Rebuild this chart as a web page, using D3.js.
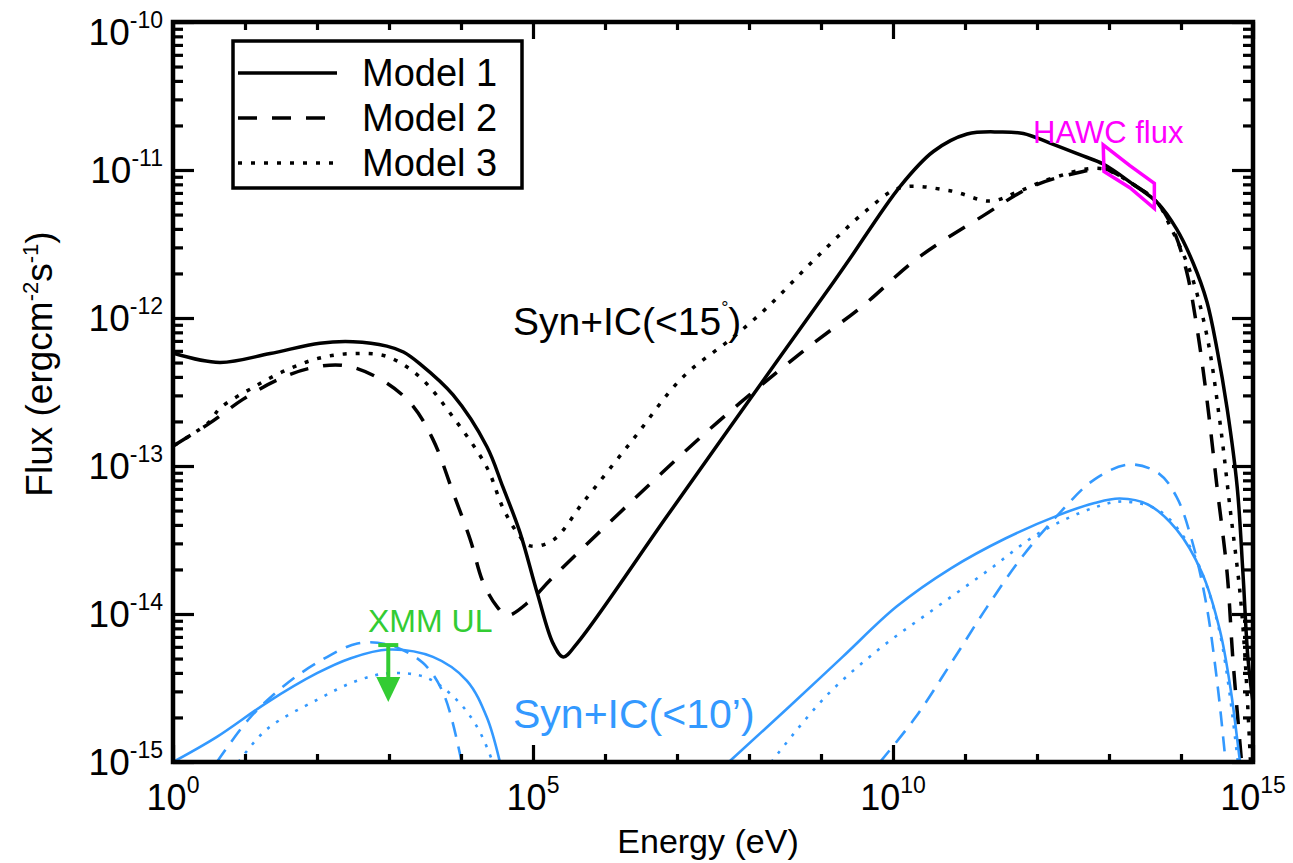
<!DOCTYPE html>
<html>
<head>
<meta charset="utf-8">
<script src="https://cdn.jsdelivr.net/npm/d3@7"></script>
<style>
  body { margin: 0; background: #fff; }
  svg { font-family: "Liberation Sans", Arial, sans-serif; }
</style>
</head>
<body>
<svg id="chart" width="1293" height="863"></svg>
<script>
// Values, each point is [log10 E (eV), log10 flux (erg cm^-2 s^-1)]
const model1 = [[0.02,-12.24],[0.65,-12.30],[1.35,-12.24],[2.04,-12.17],[2.5,-12.16],[2.97,-12.19],[3.2,-12.23],
  [3.43,-12.31],[3.89,-12.52],[4.36,-12.87],[4.58,-13.14],[4.82,-13.45],[5.06,-13.86],[5.28,-14.2],[5.42,-14.29],
  [5.61,-14.20],[6.86,-13.34],[8.01,-12.55],[9.17,-11.76],[9.40,-11.60],[10.10,-11.11],[10.56,-10.875],[11.03,-10.757],
  [11.49,-10.743],[11.81,-10.753],[12.18,-10.818],[12.64,-10.905],[12.92,-10.96],[13.33,-11.095],[13.67,-11.22],
  [13.94,-11.40],[14.17,-11.63],[14.36,-11.89],[14.50,-12.21],[14.64,-12.61],[14.78,-13.14],[14.86,-13.72],
  [14.93,-14.30],[15.0,-14.6]]
const model2 = [[0.02,-12.86],[0.51,-12.71],[0.97,-12.55],[1.44,-12.42],[1.90,-12.34],[2.36,-12.32],[2.83,-12.40],
  [3.29,-12.57],[3.61,-12.82],[3.89,-13.18],[4.13,-13.50],[4.31,-13.79],[4.50,-13.95],[4.64,-14.01],[4.96,-13.91],
  [5.26,-13.76],[6.39,-13.23],[7.55,-12.71],[8.71,-12.24],[9.60,-11.91],[10.33,-11.60],[11.25,-11.31],
  [11.94,-11.11],[12.64,-11.01],[12.92,-10.99],[13.33,-11.095],[13.67,-11.22],[13.89,-11.40],[14.08,-11.69],
  [14.22,-12.06],[14.36,-12.55],[14.5,-13.14],[14.64,-13.72],[14.72,-14.30],[14.82,-14.88],[14.85,-15.05]]
const model3 = [[0.02,-12.86],[0.51,-12.70],[0.65,-12.61],[1.11,-12.47],[1.58,-12.35],[2.04,-12.27],[2.5,-12.24],
  [2.97,-12.26],[3.43,-12.40],[3.89,-12.67],[4.36,-13.01],[4.58,-13.28],[4.78,-13.45],[4.96,-13.54],[5.28,-13.50],
  [5.69,-13.25],[6.39,-12.82],[7.08,-12.40],[7.78,-12.13],[8.25,-11.93],[8.94,-11.59],[9.64,-11.27],[10.10,-11.12],
  [10.79,-11.14],[11.35,-11.21],[11.72,-11.15],[12.18,-11.06],[12.88,-10.99],[13.33,-11.095],[13.67,-11.22],
  [13.85,-11.38],[14.13,-11.69],[14.36,-12.12],[14.54,-12.70],[14.68,-13.28],[14.82,-13.86],[14.89,-14.30],[14.97,-15.05]]

// Syn+IC within 10 arcmin (blue), low and high energy humps
const blueSolidLow = [[0,-15],[0.61,-14.83],[1.30,-14.60],[2.0,-14.40],[2.46,-14.30],[2.99,-14.24],[3.61,-14.29],
  [4.08,-14.45],[4.36,-14.70],[4.54,-15.0],[4.6,-15.15]]
const blueDashLow = [[0.61,-15],[1.07,-14.70],[1.53,-14.49],[2.0,-14.33],[2.56,-14.20],[3.01,-14.21],[3.47,-14.33],
  [3.75,-14.53],[4.01,-15.0],[4.05,-15.1]]
const blueDotLow = [[0.91,-15],[1.30,-14.78],[2.0,-14.58],[2.56,-14.45],[3.01,-14.40],[3.52,-14.43],[3.94,-14.58],
  [4.22,-14.76],[4.44,-15.0],[4.5,-15.1]]
const blueSolidHigh = [[7.72,-15],[8.55,-14.63],[9.30,-14.29],[10.05,-13.95],[10.81,-13.69],[11.56,-13.49],
  [12.31,-13.33],[12.80,-13.25],[13.15,-13.22],[13.54,-13.26],[13.94,-13.43],[14.29,-13.72],[14.54,-14.11],
  [14.69,-14.51],[14.82,-15.0],[14.85,-15.1]]
const blueDashHigh = [[9.82,-15],[10.31,-14.70],[10.81,-14.33],[11.31,-13.95],[11.80,-13.61],[12.31,-13.32],
  [12.80,-13.09],[13.29,-12.99],[13.69,-13.05],[13.94,-13.21],[14.15,-13.50],[14.35,-13.93],[14.50,-14.45],
  [14.62,-15.0],[14.64,-15.1]]
const blueDotHigh = [[8.31,-15],[9.06,-14.56],[9.80,-14.24],[10.56,-13.97],[11.31,-13.71],[12.04,-13.45],
  [12.80,-13.28],[13.20,-13.24],[13.69,-13.30],[14.04,-13.48],[14.29,-13.72],[14.54,-14.13],[14.79,-15.0],[14.81,-15.1]]

// HAWC butterfly outline and XMM upper limit
const hawcBox = [[12.92,-10.83],[12.93,-11.01],[13.29,-11.12],[13.63,-11.26],[13.63,-11.09],[13.29,-10.97]]
const xmmUL = [2.99, -14.21]

const legendLabels = ['Model 1', 'Model 2', 'Model 3']
const xLabelExps = [0, 5, 10, 15]
const yLabelExps = [-10, -11, -12, -13, -14, -15]

const svg = d3.select('#chart')
const plot = {left: 173, right: 1253, top: 22, bottom: 762}

const x = d3.scaleLog().domain([1, 1e15]).range([plot.left, plot.right])
const y = d3.scaleLog().domain([1e-15, 1e-10]).range([plot.bottom, plot.top])

const blue = '#3399ff'
const styles = [
  {data: model1, color: '#000', width: 3.5, dash: null},
  {data: model2, color: '#000', width: 3.5, dash: '19,15'},
  {data: model3, color: '#000', width: 3.5, dash: '4,9'},
  {data: blueSolidLow, color: blue, width: 2.6, dash: null},
  {data: blueDashLow, color: blue, width: 2.6, dash: '15,10'},
  {data: blueDotLow, color: blue, width: 2.6, dash: '3,8'},
  {data: blueSolidHigh, color: blue, width: 2.6, dash: null},
  {data: blueDashHigh, color: blue, width: 2.6, dash: '15,10'},
  {data: blueDotHigh, color: blue, width: 2.6, dash: '3,8'}
]

svg.append('clipPath').attr('id', 'clip')
  .append('rect')
  .attr('x', plot.left).attr('y', plot.top)
  .attr('width', plot.right - plot.left).attr('height', plot.bottom - plot.top)

const line = d3.line()
  .x(d => x(10 ** d[0]))
  .y(d => y(10 ** d[1]))
  .curve(d3.curveCatmullRom.alpha(0.5))

const curves = svg.append('g').attr('clip-path', 'url(#clip)')
curves.selectAll('path')
  .data(styles)
  .enter()
  .append('path')
    .attr('d', s => line(s.data))
    .attr('fill', 'none')
    .attr('stroke', s => s.color)
    .attr('stroke-width', s => s.width)
    .attr('stroke-dasharray', s => s.dash)

// HAWC flux butterfly
svg.append('path')
  .attr('d', d3.line().x(d => x(10 ** d[0])).y(d => y(10 ** d[1]))(hawcBox) + 'Z')
  .attr('fill', 'none')
  .attr('stroke', '#ff00ff')
  .attr('stroke-width', 3.5)

svg.append('text')
  .attr('x', 1033).attr('y', 143)
  .attr('font-size', 31)
  .attr('fill', '#ff00ff')
  .text('HAWC flux')

// XMM upper limit arrow
const green = '#33cc33'
const ulX = x(10 ** xmmUL[0]), ulY = y(10 ** xmmUL[1])
svg.append('line')
  .attr('x1', ulX - 10).attr('x2', ulX + 10)
  .attr('y1', ulY).attr('y2', ulY)
  .attr('stroke', green).attr('stroke-width', 4)
svg.append('line')
  .attr('x1', ulX).attr('x2', ulX)
  .attr('y1', ulY).attr('y2', ulY + 36)
  .attr('stroke', green).attr('stroke-width', 4)
svg.append('path')
  .attr('d', `M${ulX - 12},${ulY + 32}L${ulX + 12},${ulY + 32}L${ulX},${ulY + 57}Z`)
  .attr('fill', green)

svg.append('text')
  .attr('x', 368).attr('y', 632)
  .attr('font-size', 32)
  .attr('fill', green)
  .text('XMM UL')

// Annotations
const synBig = svg.append('text')
  .attr('x', 513).attr('y', 335)
  .attr('font-size', 39)
  .attr('fill', '#000')
synBig.append('tspan').text('Syn+IC(<15')
synBig.append('tspan').attr('dy', -21).attr('font-size', 18).text('°')
synBig.append('tspan').attr('dy', 21).text(')')

svg.append('text')
  .attr('x', 513).attr('y', 728)
  .attr('font-size', 41)
  .attr('fill', blue)
  .text('Syn+IC(<10’)')

// Axes: ticks point inwards on all four sides
const isMajor = v => Math.abs(Math.log10(v) - Math.round(Math.log10(v))) < 1e-6
const yTicks = []
for (let e = -15; e < -10; e++) for (let k = 1; k < 10; k++) yTicks.push(k * 10 ** e)
yTicks.push(1e-10)
const xTicks = d3.range(0, 16).map(e => 10 ** e)

const leftAxis = svg.append('g')
  .attr('transform', `translate(${plot.left},0)`)
  .call(d3.axisLeft(y).tickValues(yTicks).tickFormat('').tickSizeOuter(0))
leftAxis.selectAll('.tick line').attr('x2', d => isMajor(d) ? 21 : 10)

const rightAxis = svg.append('g')
  .attr('transform', `translate(${plot.right},0)`)
  .call(d3.axisRight(y).tickValues(yTicks).tickFormat('').tickSizeOuter(0))
rightAxis.selectAll('.tick line').attr('x2', d => isMajor(d) ? -21 : -10)

const xMajor = v => Math.round(Math.log10(v)) % 5 === 0
const bottomAxis = svg.append('g')
  .attr('transform', `translate(0,${plot.bottom})`)
  .call(d3.axisBottom(x).tickValues(xTicks).tickFormat('').tickSizeOuter(0))
bottomAxis.selectAll('.tick line').attr('y2', d => xMajor(d) ? -17 : -8)

const topAxis = svg.append('g')
  .attr('transform', `translate(0,${plot.top})`)
  .call(d3.axisTop(x).tickValues(xTicks).tickFormat('').tickSizeOuter(0))
topAxis.selectAll('.tick line').attr('y2', d => xMajor(d) ? 17 : 8)

svg.selectAll('.tick line').attr('stroke', '#000').attr('stroke-width', 3.2)
svg.selectAll('.domain').remove()

svg.append('rect')
  .attr('x', plot.left).attr('y', plot.top)
  .attr('width', plot.right - plot.left).attr('height', plot.bottom - plot.top)
  .attr('fill', 'none').attr('stroke', '#000').attr('stroke-width', 4.5)

function powerLabel(sel, exp) {
  sel.append('tspan').text('10')
  sel.append('tspan').attr('dy', -17).attr('font-size', 23).text(exp)
}

svg.append('g').selectAll('text')
  .data(xLabelExps)
  .enter()
  .append('text')
    .attr('x', d => x(10 ** d))
    .attr('y', 810)
    .attr('text-anchor', 'middle')
    .attr('font-size', 36)
    .each(function (d) { powerLabel(d3.select(this), d) })

svg.append('g').selectAll('text')
  .data(yLabelExps)
  .enter()
  .append('text')
    .attr('x', 163)
    .attr('y', d => y(10 ** d) + (d === -10 ? 23 : 13))
    .attr('text-anchor', 'end')
    .attr('font-size', 37)
    .each(function (d) { powerLabel(d3.select(this), d) })

svg.append('text')
  .attr('x', 708).attr('y', 853)
  .attr('text-anchor', 'middle')
  .attr('font-size', 34)
  .text('Energy (eV)')

const yTitle = svg.append('text')
  .attr('transform', 'translate(52,364) rotate(-90)')
  .attr('text-anchor', 'middle')
  .attr('font-size', 37)
yTitle.append('tspan').text('Flux (ergcm')
yTitle.append('tspan').attr('dy', -14).attr('font-size', 22).text('-2')
yTitle.append('tspan').attr('dy', 14).text('s')
yTitle.append('tspan').attr('dy', -14).attr('font-size', 22).text('-1')
yTitle.append('tspan').attr('dy', 14).text(')')

// Legend
const legend = svg.append('g')
legend.append('rect')
  .attr('x', 233).attr('y', 41).attr('width', 289).attr('height', 147)
  .attr('fill', '#fff').attr('stroke', '#000').attr('stroke-width', 3.5)
const legendRows = legend.selectAll('g.row')
  .data(legendLabels)
  .enter()
  .append('g').attr('class', 'row')
  .attr('transform', (d, i) => `translate(0,${73 + i * 45})`)
legendRows.append('line')
  .attr('x1', 238).attr('x2', 337)
  .attr('stroke', '#000').attr('stroke-width', 3.5)
  .attr('stroke-dasharray', (d, i) => styles[i].dash)
legendRows.append('text')
  .attr('x', 362).attr('y', 13)
  .attr('font-size', 38)
  .text(d => d)
</script>
</body>
</html>
